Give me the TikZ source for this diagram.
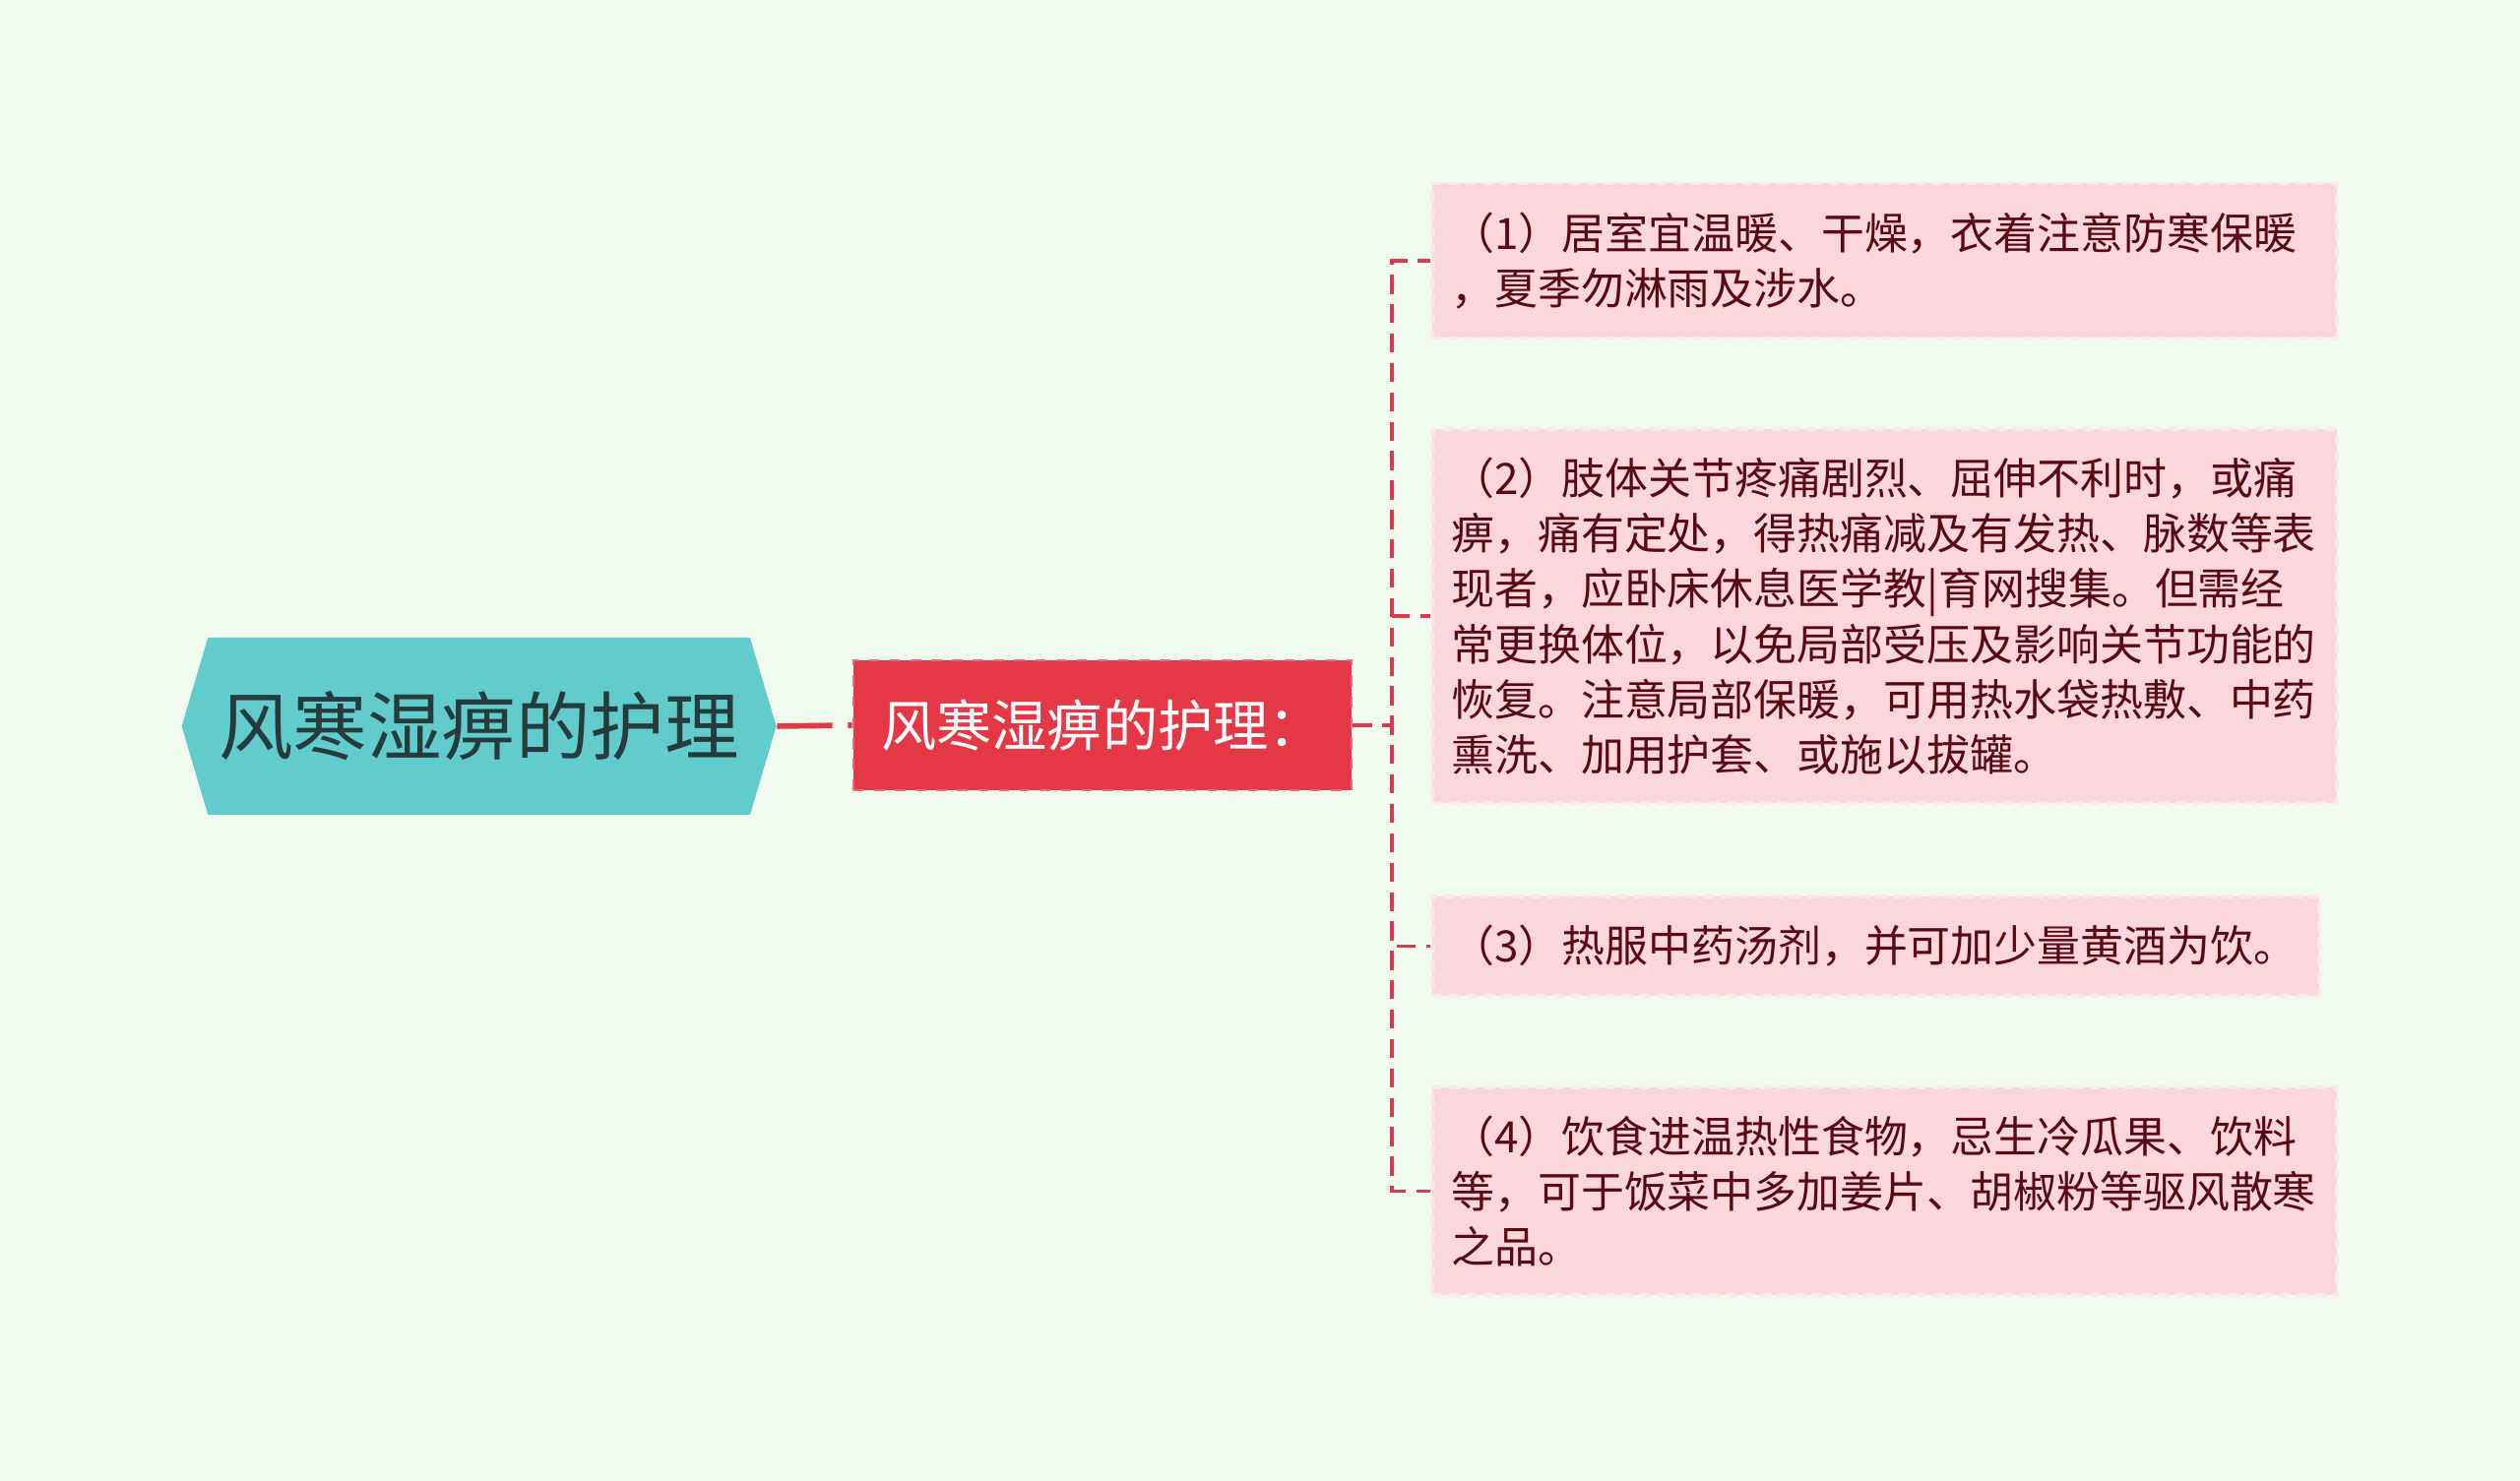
\documentclass[tikz,border=0pt]{standalone}
\usepackage{fontspec}
\setmainfont{Noto Sans CJK SC}
\usetikzlibrary{shapes.symbols}
\definecolor{bgmint}{HTML}{F0FAEF}
\definecolor{rootteal}{HTML}{62CBCB}
\definecolor{roottext}{HTML}{263B3B}
\definecolor{subred}{HTML}{E53847}
\definecolor{subedge}{HTML}{EA6B77}
\definecolor{leafpink}{HTML}{FBD6DC}
\definecolor{leafedge}{HTML}{FDE8EB}
\definecolor{leaftext}{HTML}{5A0912}
\definecolor{linkred}{HTML}{D63C4E}

\begin{document}
\begin{tikzpicture}[
  roothex/.style={shape=signal, signal to=west and east, signal pointer angle=147, fill=rootteal, text=roottext,
    minimum width=6.04cm, minimum height=1.8cm, inner sep=0pt, font=\fontsize{21.5}{26}\selectfont},
  subbox/.style={rectangle, fill=subred, draw=subedge, dashed, line width=0.8pt, text=white,
    minimum width=5.06cm, minimum height=1.32cm, inner sep=0pt, font=\fontsize{16}{20}\selectfont},
  leafbox/.style={rectangle, fill=leafpink, draw=leafedge, dash pattern=on 3pt off 2pt, line width=1pt,
    text=leaftext, align=left, text width=8.8cm, inner xsep=0.195cm, inner ysep=0pt, anchor=west,
    font=\fontsize{12.5}{16}\selectfont},
  link/.style={draw=linkred, line width=1.1pt, dash pattern=on 5.5pt off 3pt},
]
\useasboundingbox (0,0) rectangle (25.6,15.05);
\fill[bgmint] (0,0) rectangle (25.6,15.05);

% root and its branch
\node[roothex] (root) at (4.866,7.67) {风寒湿痹的护理};
\node[subbox] (sub) at (11.20,7.68) {风寒湿痹的护理：};
\draw[draw=subred, line width=1.6pt, dash pattern=on 16pt off 4.5pt] (root.east) -- (sub.west);

% leaves
\node[leafbox, minimum height=1.57cm] (leaf1) at (14.53,12.40)
  {（1）居室宜温暖、干燥，衣着注意防寒保暖\\，夏季勿淋雨及涉水。};
\node[leafbox, minimum height=3.80cm] (leaf2) at (14.53,8.79)
  {（2）肢体关节疼痛剧烈、屈伸不利时，或痛\\痹，痛有定处，得热痛减及有发热、脉数等表\\现者，应卧床休息医学教|育网搜集。但需经\\常更换体位，以免局部受压及影响关节功能的\\恢复。注意局部保暖，可用热水袋热敷、中药\\熏洗、加用护套、或施以拔罐。};
\node[leafbox, minimum height=1.01cm, text width=8.62cm] (leaf3) at (14.53,5.435)
  {（3）热服中药汤剂，并可加少量黄酒为饮。};
\node[leafbox, minimum height=2.11cm] (leaf4) at (14.53,2.945)
  {（4）饮食进温热性食物，忌生冷瓜果、饮料\\等，可于饭菜中多加姜片、胡椒粉等驱风散寒\\之品。};

% connectors
\coordinate (fork) at (14.14,7.68);
\foreach \n in {1,...,4}
  \draw[link] (sub.east) -- (fork) |- (leaf\n.west);
\end{tikzpicture}
\end{document}
